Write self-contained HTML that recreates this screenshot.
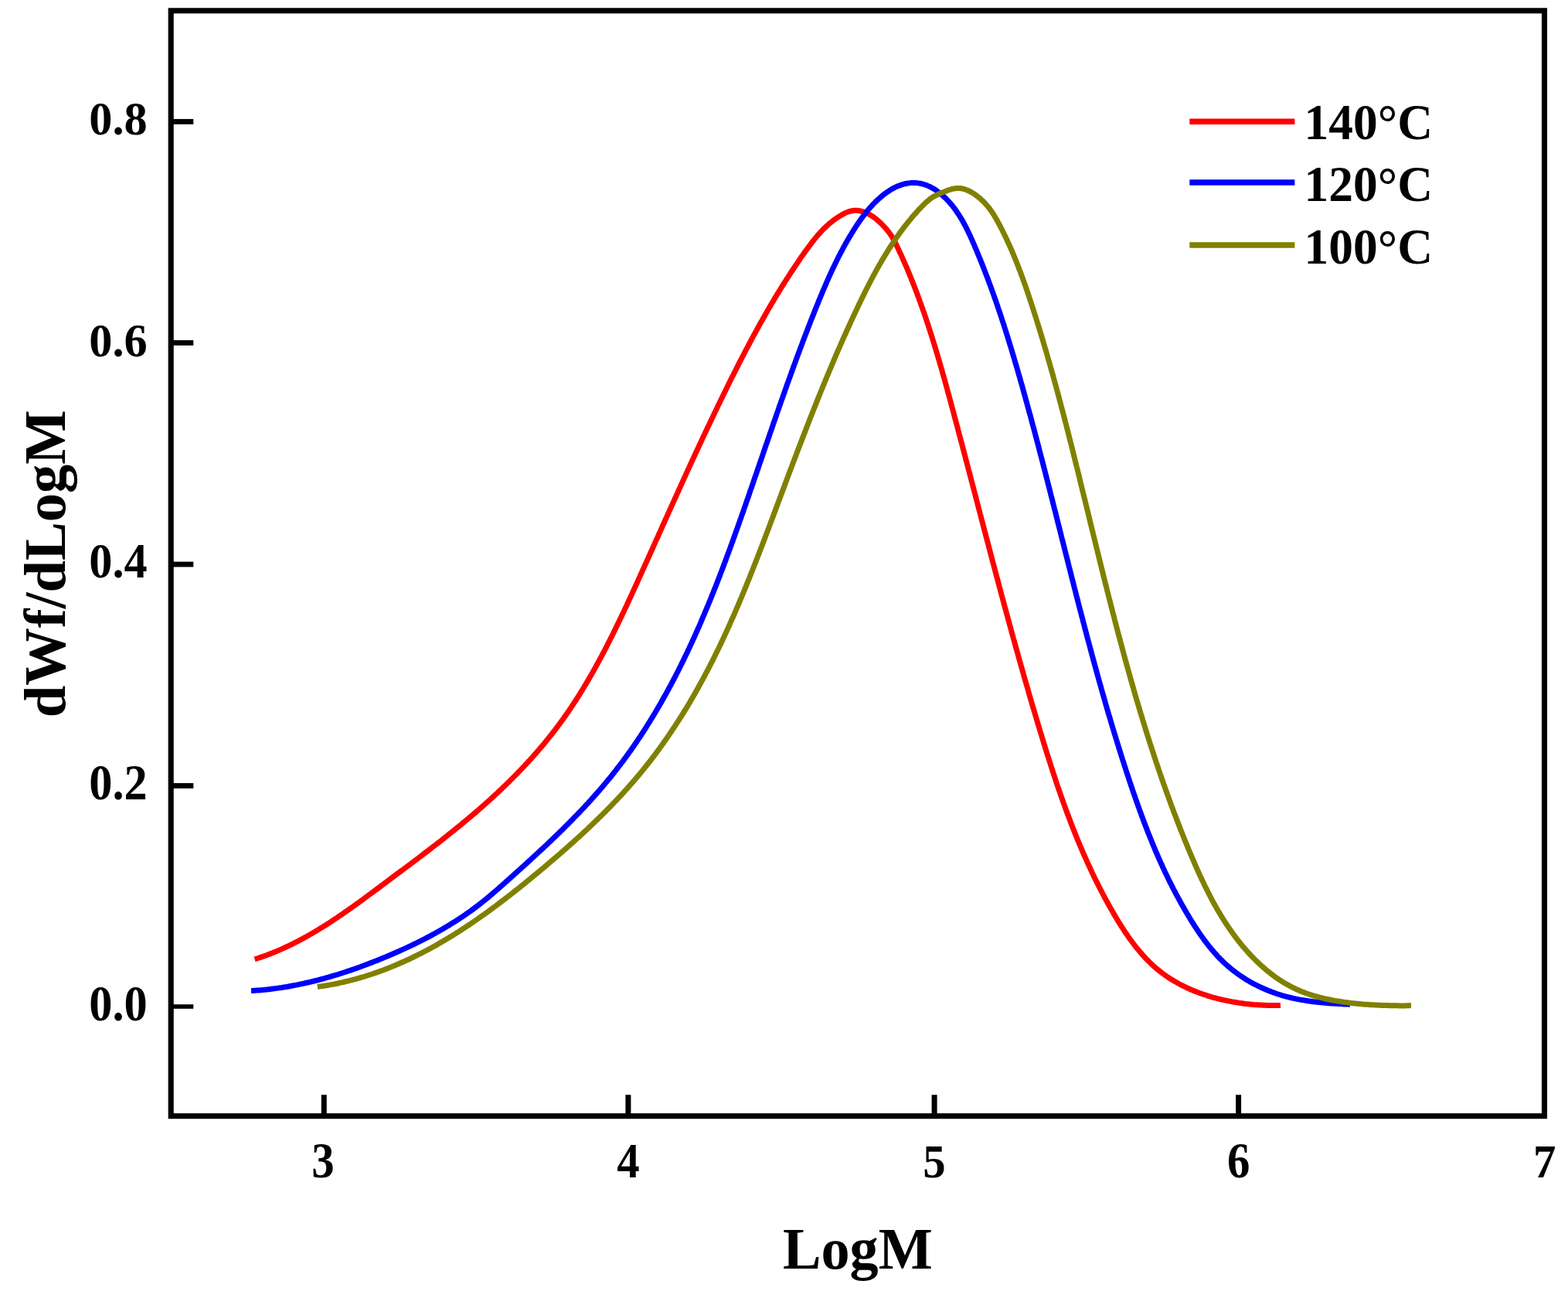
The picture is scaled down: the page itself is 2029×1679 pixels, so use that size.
<!DOCTYPE html>
<html lang="en"><head><meta charset="utf-8"><title>dWf/dLogM vs LogM</title>
<style>
html,body{margin:0;padding:0;background:#fff;}
body{width:2029px;height:1679px;overflow:hidden;}
svg{display:block;}
text{font-family:"Liberation Serif","DejaVu Serif",serif;font-weight:bold;fill:#000;}
.tick{font-size:60px;}
.lab{font-size:75px;}
.leg{font-size:63.5px;}
</style></head><body>
<svg width="2029" height="1679" viewBox="0 0 2029 1679">
<rect x="0" y="0" width="2029" height="1679" fill="#fff"/>
<path d="M329.6,1240.8 L332.1,1240.0 L334.5,1239.2 L336.9,1238.4 L339.3,1237.6 L341.7,1236.8 L344.0,1235.9 L346.4,1235.0 L348.8,1234.1 L351.1,1233.2 L353.5,1232.3 L355.8,1231.3 L358.1,1230.4 L360.4,1229.4 L362.7,1228.4 L365.0,1227.4 L367.3,1226.3 L369.6,1225.3 L371.8,1224.2 L374.1,1223.2 L376.3,1222.1 L378.6,1221.0 L380.8,1219.9 L383.0,1218.7 L385.2,1217.6 L387.4,1216.4 L389.6,1215.3 L391.8,1214.1 L394.0,1212.9 L396.2,1211.7 L398.4,1210.5 L400.5,1209.2 L402.7,1208.0 L404.9,1206.7 L407.0,1205.5 L409.1,1204.2 L411.3,1202.9 L413.4,1201.6 L415.5,1200.3 L417.7,1199.0 L419.8,1197.7 L421.9,1196.4 L424.0,1195.0 L426.1,1193.7 L428.2,1192.3 L430.2,1190.9 L432.3,1189.6 L434.4,1188.2 L436.5,1186.8 L438.5,1185.4 L440.6,1184.0 L442.7,1182.6 L444.7,1181.2 L446.8,1179.7 L448.8,1178.3 L450.9,1176.9 L452.9,1175.4 L455.0,1174.0 L457.0,1172.5 L459.0,1171.1 L461.1,1169.6 L463.1,1168.2 L465.1,1166.7 L467.1,1165.2 L469.2,1163.8 L471.2,1162.3 L473.2,1160.8 L475.2,1159.3 L477.2,1157.8 L479.2,1156.3 L481.2,1154.9 L483.2,1153.4 L485.3,1151.9 L487.3,1150.4 L489.3,1148.9 L491.3,1147.4 L493.3,1145.9 L495.3,1144.4 L497.3,1142.9 L499.3,1141.4 L501.3,1139.9 L503.3,1138.4 L505.3,1136.9 L507.3,1135.4 L509.3,1133.9 L511.3,1132.4 L513.3,1130.9 L515.3,1129.4 L517.3,1127.9 L519.3,1126.4 L521.3,1125.0 L523.3,1123.5 L525.3,1122.0 L527.3,1120.5 L529.3,1119.0 L531.3,1117.5 L533.3,1116.0 L535.3,1114.5 L537.3,1113.0 L539.3,1111.5 L541.3,1110.0 L543.3,1108.5 L545.3,1106.9 L547.2,1105.4 L549.2,1103.9 L551.2,1102.4 L553.2,1100.9 L555.2,1099.4 L557.2,1097.9 L559.1,1096.3 L561.1,1094.8 L563.1,1093.3 L565.1,1091.8 L567.0,1090.2 L569.0,1088.7 L571.0,1087.2 L572.9,1085.6 L574.9,1084.1 L576.8,1082.5 L578.8,1081.0 L580.7,1079.4 L582.7,1077.9 L584.6,1076.3 L586.6,1074.8 L588.5,1073.2 L590.5,1071.6 L592.4,1070.1 L594.3,1068.5 L596.3,1066.9 L598.2,1065.3 L600.1,1063.7 L602.0,1062.1 L604.0,1060.5 L605.9,1058.9 L607.8,1057.3 L609.7,1055.7 L611.6,1054.1 L613.5,1052.5 L615.4,1050.9 L617.3,1049.2 L619.2,1047.6 L621.1,1045.9 L622.9,1044.3 L624.8,1042.6 L626.7,1041.0 L628.6,1039.3 L630.4,1037.6 L632.3,1036.0 L634.2,1034.3 L636.0,1032.6 L637.9,1030.9 L639.7,1029.2 L641.5,1027.5 L643.4,1025.8 L645.2,1024.1 L647.0,1022.4 L648.8,1020.7 L650.6,1018.9 L652.5,1017.2 L654.3,1015.4 L656.1,1013.7 L657.8,1012.0 L659.6,1010.2 L661.4,1008.4 L663.2,1006.7 L664.9,1004.9 L666.7,1003.1 L668.5,1001.3 L670.2,999.5 L671.9,997.7 L673.7,995.9 L675.4,994.1 L677.1,992.3 L678.8,990.5 L680.5,988.6 L682.2,986.8 L683.9,985.0 L685.6,983.1 L687.3,981.3 L689.0,979.4 L690.6,977.5 L692.3,975.7 L693.9,973.8 L695.6,971.9 L697.2,970.0 L698.8,968.1 L700.5,966.2 L702.1,964.3 L703.7,962.4 L705.3,960.5 L706.8,958.5 L708.4,956.6 L710.0,954.7 L711.5,952.7 L713.1,950.8 L714.6,948.8 L716.2,946.8 L717.7,944.9 L719.2,942.9 L720.7,940.9 L722.2,938.9 L723.7,936.9 L725.1,934.9 L726.6,932.9 L728.1,930.9 L729.5,928.9 L730.9,926.8 L732.4,924.8 L733.8,922.8 L735.2,920.7 L736.6,918.7 L738.0,916.6 L739.4,914.5 L740.8,912.5 L742.1,910.4 L743.5,908.3 L744.9,906.2 L746.2,904.1 L747.5,902.0 L748.9,899.9 L750.2,897.8 L751.5,895.7 L752.8,893.6 L754.1,891.5 L755.4,889.3 L756.7,887.2 L758.0,885.1 L759.3,882.9 L760.5,880.8 L761.8,878.6 L763.0,876.5 L764.3,874.3 L765.5,872.1 L766.8,870.0 L768.0,867.8 L769.2,865.6 L770.4,863.4 L771.6,861.2 L772.8,859.1 L774.0,856.9 L775.2,854.7 L776.4,852.5 L777.6,850.3 L778.8,848.1 L779.9,845.8 L781.1,843.6 L782.3,841.4 L783.4,839.2 L784.6,837.0 L785.7,834.7 L786.8,832.5 L788.0,830.3 L789.1,828.1 L790.2,825.8 L791.4,823.6 L792.5,821.3 L793.6,819.1 L794.7,816.8 L795.8,814.6 L796.9,812.3 L798.0,810.1 L799.1,807.8 L800.2,805.6 L801.3,803.3 L802.4,801.0 L803.5,798.8 L804.5,796.5 L805.6,794.2 L806.7,792.0 L807.8,789.7 L808.8,787.4 L809.9,785.2 L811.0,782.9 L812.0,780.6 L813.1,778.3 L814.1,776.0 L815.2,773.8 L816.2,771.5 L817.3,769.2 L818.3,766.9 L819.4,764.6 L820.4,762.4 L821.5,760.1 L822.5,757.8 L823.6,755.5 L824.6,753.2 L825.6,750.9 L826.7,748.6 L827.7,746.4 L828.7,744.1 L829.8,741.8 L830.8,739.5 L831.8,737.2 L832.9,734.9 L833.9,732.6 L834.9,730.3 L836.0,728.1 L837.0,725.8 L838.0,723.5 L839.1,721.2 L840.1,718.9 L841.1,716.6 L842.1,714.3 L843.2,712.1 L844.2,709.8 L845.2,707.5 L846.2,705.2 L847.3,702.9 L848.3,700.6 L849.3,698.3 L850.4,696.1 L851.4,693.8 L852.4,691.5 L853.4,689.2 L854.5,686.9 L855.5,684.6 L856.5,682.4 L857.5,680.1 L858.6,677.8 L859.6,675.5 L860.6,673.2 L861.6,671.0 L862.7,668.7 L863.7,666.4 L864.7,664.1 L865.7,661.8 L866.8,659.6 L867.8,657.3 L868.8,655.0 L869.9,652.7 L870.9,650.4 L871.9,648.2 L872.9,645.9 L874.0,643.6 L875.0,641.3 L876.0,639.1 L877.1,636.8 L878.1,634.5 L879.1,632.2 L880.2,630.0 L881.2,627.7 L882.2,625.4 L883.3,623.1 L884.3,620.9 L885.3,618.6 L886.4,616.3 L887.4,614.1 L888.4,611.8 L889.5,609.5 L890.5,607.2 L891.6,605.0 L892.6,602.7 L893.6,600.4 L894.7,598.2 L895.7,595.9 L896.8,593.6 L897.8,591.4 L898.9,589.1 L899.9,586.8 L901.0,584.6 L902.0,582.3 L903.1,580.1 L904.1,577.8 L905.2,575.5 L906.2,573.3 L907.3,571.0 L908.3,568.7 L909.4,566.5 L910.4,564.2 L911.5,562.0 L912.6,559.7 L913.6,557.5 L914.7,555.2 L915.7,552.9 L916.8,550.7 L917.9,548.4 L919.0,546.2 L920.0,543.9 L921.1,541.7 L922.2,539.4 L923.2,537.2 L924.3,534.9 L925.4,532.7 L926.5,530.4 L927.6,528.2 L928.6,525.9 L929.7,523.7 L930.8,521.4 L931.9,519.2 L933.0,516.9 L934.1,514.7 L935.2,512.5 L936.3,510.2 L937.4,508.0 L938.5,505.7 L939.6,503.5 L940.7,501.3 L941.8,499.0 L942.9,496.8 L944.0,494.5 L945.1,492.3 L946.2,490.1 L947.3,487.8 L948.5,485.6 L949.6,483.4 L950.7,481.2 L951.8,478.9 L952.9,476.7 L954.1,474.5 L955.2,472.2 L956.3,470.0 L957.5,467.8 L958.6,465.6 L959.8,463.4 L960.9,461.1 L962.1,458.9 L963.2,456.7 L964.4,454.5 L965.5,452.3 L966.7,450.1 L967.9,447.9 L969.0,445.7 L970.2,443.5 L971.4,441.2 L972.6,439.0 L973.7,436.8 L974.9,434.6 L976.1,432.5 L977.3,430.3 L978.5,428.1 L979.7,425.9 L980.9,423.7 L982.1,421.5 L983.3,419.3 L984.5,417.1 L985.8,415.0 L987.0,412.8 L988.2,410.6 L989.5,408.4 L990.7,406.3 L991.9,404.1 L993.2,401.9 L994.4,399.8 L995.7,397.6 L997.0,395.4 L998.2,393.3 L999.5,391.1 L1000.8,389.0 L1002.0,386.8 L1003.3,384.7 L1004.6,382.6 L1005.9,380.4 L1007.2,378.3 L1008.5,376.1 L1009.8,374.0 L1011.1,371.9 L1012.5,369.8 L1013.8,367.6 L1015.1,365.5 L1016.5,363.4 L1017.8,361.3 L1019.2,359.2 L1020.5,357.1 L1021.9,355.0 L1023.2,352.9 L1024.6,350.8 L1026.0,348.7 L1027.4,346.6 L1028.8,344.5 L1030.2,342.4 L1031.6,340.4 L1033.0,338.3 L1034.4,336.2 L1035.8,334.1 L1037.2,332.1 L1038.7,330.0 L1040.1,328.0 L1041.6,325.9 L1043.0,323.9 L1044.5,321.8 L1046.0,319.8 L1047.5,317.8 L1049.0,315.8 L1050.5,313.8 L1052.0,311.8 L1053.6,309.9 L1055.2,307.9 L1056.8,306.0 L1058.4,304.1 L1060.0,302.3 L1061.7,300.4 L1063.4,298.6 L1065.1,296.8 L1066.9,295.1 L1068.7,293.4 L1070.5,291.7 L1072.3,290.0 L1074.2,288.4 L1076.1,286.9 L1078.1,285.3 L1080.1,283.8 L1082.2,282.4 L1084.2,281.0 L1086.4,279.7 L1088.5,278.3 L1090.8,277.1 L1093.0,275.9 L1095.3,274.9 L1097.7,273.9 L1100.0,273.2 L1102.4,272.7 L1104.9,272.3 L1107.3,272.2 L1109.8,272.3 L1112.2,272.7 L1114.7,273.2 L1117.1,273.9 L1119.5,274.7 L1121.8,275.8 L1124.1,276.9 L1126.4,278.2 L1128.5,279.5 L1130.7,281.0 L1132.7,282.5 L1134.7,284.1 L1136.6,285.8 L1138.5,287.5 L1140.3,289.3 L1142.1,291.1 L1143.8,292.9 L1145.5,294.7 L1147.2,296.6 L1148.7,298.5 L1150.3,300.4 L1151.7,302.4 L1153.1,304.5 L1154.5,306.5 L1155.7,308.7 L1156.9,310.8 L1158.1,313.0 L1159.2,315.3 L1160.2,317.5 L1161.3,319.8 L1162.4,322.0 L1163.5,324.3 L1164.5,326.6 L1165.6,328.8 L1166.6,331.1 L1167.6,333.4 L1168.6,335.7 L1169.7,338.0 L1170.7,340.3 L1171.7,342.6 L1172.7,344.9 L1173.7,347.2 L1174.6,349.5 L1175.6,351.8 L1176.6,354.2 L1177.5,356.5 L1178.5,358.8 L1179.4,361.1 L1180.3,363.4 L1181.3,365.8 L1182.2,368.1 L1183.1,370.4 L1184.0,372.8 L1184.9,375.1 L1185.8,377.4 L1186.7,379.8 L1187.5,382.1 L1188.4,384.5 L1189.3,386.8 L1190.1,389.2 L1191.0,391.5 L1191.8,393.9 L1192.7,396.2 L1193.5,398.6 L1194.3,400.9 L1195.2,403.3 L1196.0,405.6 L1196.8,408.0 L1197.6,410.4 L1198.4,412.7 L1199.2,415.1 L1200.0,417.5 L1200.8,419.8 L1201.5,422.2 L1202.3,424.6 L1203.1,427.0 L1203.8,429.3 L1204.6,431.7 L1205.4,434.1 L1206.1,436.5 L1206.9,438.9 L1207.6,441.2 L1208.3,443.6 L1209.1,446.0 L1209.8,448.4 L1210.5,450.8 L1211.2,453.2 L1212.0,455.6 L1212.7,458.0 L1213.4,460.3 L1214.1,462.7 L1214.8,465.1 L1215.5,467.5 L1216.2,469.9 L1216.9,472.3 L1217.6,474.7 L1218.3,477.1 L1219.0,479.5 L1219.6,481.9 L1220.3,484.3 L1221.0,486.7 L1221.7,489.1 L1222.4,491.5 L1223.0,493.9 L1223.7,496.3 L1224.4,498.8 L1225.0,501.2 L1225.7,503.6 L1226.3,506.0 L1227.0,508.4 L1227.7,510.8 L1228.3,513.2 L1229.0,515.6 L1229.6,518.0 L1230.3,520.4 L1230.9,522.9 L1231.6,525.3 L1232.2,527.7 L1232.9,530.1 L1233.5,532.5 L1234.2,534.9 L1234.8,537.3 L1235.4,539.7 L1236.1,542.2 L1236.7,544.6 L1237.4,547.0 L1238.0,549.4 L1238.7,551.8 L1239.3,554.2 L1239.9,556.6 L1240.6,559.1 L1241.2,561.5 L1241.9,563.9 L1242.5,566.3 L1243.1,568.7 L1243.8,571.1 L1244.4,573.6 L1245.1,576.0 L1245.7,578.4 L1246.3,580.8 L1247.0,583.2 L1247.6,585.6 L1248.2,588.1 L1248.9,590.5 L1249.5,592.9 L1250.1,595.3 L1250.8,597.7 L1251.4,600.1 L1252.1,602.6 L1252.7,605.0 L1253.3,607.4 L1254.0,609.8 L1254.6,612.2 L1255.2,614.7 L1255.9,617.1 L1256.5,619.5 L1257.1,621.9 L1257.8,624.3 L1258.4,626.7 L1259.0,629.2 L1259.7,631.6 L1260.3,634.0 L1260.9,636.4 L1261.6,638.8 L1262.2,641.3 L1262.8,643.7 L1263.5,646.1 L1264.1,648.5 L1264.7,650.9 L1265.4,653.4 L1266.0,655.8 L1266.6,658.2 L1267.3,660.6 L1267.9,663.0 L1268.5,665.4 L1269.2,667.9 L1269.8,670.3 L1270.4,672.7 L1271.1,675.1 L1271.7,677.5 L1272.3,680.0 L1273.0,682.4 L1273.6,684.8 L1274.2,687.2 L1274.9,689.6 L1275.5,692.1 L1276.1,694.5 L1276.8,696.9 L1277.4,699.3 L1278.1,701.7 L1278.7,704.1 L1279.3,706.6 L1280.0,709.0 L1280.6,711.4 L1281.2,713.8 L1281.9,716.2 L1282.5,718.7 L1283.2,721.1 L1283.8,723.5 L1284.4,725.9 L1285.1,728.3 L1285.7,730.7 L1286.4,733.2 L1287.0,735.6 L1287.6,738.0 L1288.3,740.4 L1288.9,742.8 L1289.6,745.2 L1290.2,747.7 L1290.9,750.1 L1291.5,752.5 L1292.2,754.9 L1292.8,757.3 L1293.4,759.7 L1294.1,762.1 L1294.7,764.6 L1295.4,767.0 L1296.0,769.4 L1296.7,771.8 L1297.3,774.2 L1298.0,776.6 L1298.6,779.1 L1299.3,781.5 L1299.9,783.9 L1300.6,786.3 L1301.2,788.7 L1301.9,791.1 L1302.6,793.5 L1303.2,795.9 L1303.9,798.4 L1304.5,800.8 L1305.2,803.2 L1305.8,805.6 L1306.5,808.0 L1307.2,810.4 L1307.8,812.8 L1308.5,815.2 L1309.1,817.7 L1309.8,820.1 L1310.5,822.5 L1311.1,824.9 L1311.8,827.3 L1312.5,829.7 L1313.1,832.1 L1313.8,834.5 L1314.5,836.9 L1315.1,839.3 L1315.8,841.7 L1316.5,844.2 L1317.2,846.6 L1317.8,849.0 L1318.5,851.4 L1319.2,853.8 L1319.9,856.2 L1320.5,858.6 L1321.2,861.0 L1321.9,863.4 L1322.6,865.8 L1323.3,868.2 L1324.0,870.6 L1324.6,873.0 L1325.3,875.4 L1326.0,877.8 L1326.7,880.2 L1327.4,882.6 L1328.1,885.0 L1328.8,887.4 L1329.5,889.8 L1330.2,892.2 L1330.8,894.6 L1331.5,897.0 L1332.2,899.4 L1332.9,901.8 L1333.6,904.2 L1334.3,906.6 L1335.0,909.0 L1335.7,911.4 L1336.4,913.8 L1337.1,916.2 L1337.9,918.6 L1338.6,921.0 L1339.3,923.4 L1340.0,925.8 L1340.7,928.2 L1341.4,930.6 L1342.1,933.0 L1342.8,935.4 L1343.6,937.8 L1344.3,940.2 L1345.0,942.6 L1345.7,945.0 L1346.4,947.3 L1347.2,949.7 L1347.9,952.1 L1348.6,954.5 L1349.4,956.9 L1350.1,959.3 L1350.8,961.7 L1351.6,964.1 L1352.3,966.5 L1353.0,968.8 L1353.8,971.2 L1354.5,973.6 L1355.3,976.0 L1356.0,978.4 L1356.8,980.8 L1357.5,983.1 L1358.3,985.5 L1359.1,987.9 L1359.8,990.3 L1360.6,992.6 L1361.4,995.0 L1362.1,997.4 L1362.9,999.8 L1363.7,1002.1 L1364.5,1004.5 L1365.3,1006.9 L1366.0,1009.2 L1366.8,1011.6 L1367.6,1014.0 L1368.4,1016.3 L1369.2,1018.7 L1370.0,1021.1 L1370.9,1023.4 L1371.7,1025.8 L1372.5,1028.1 L1373.3,1030.5 L1374.1,1032.8 L1375.0,1035.2 L1375.8,1037.5 L1376.7,1039.9 L1377.5,1042.2 L1378.4,1044.6 L1379.2,1046.9 L1380.1,1049.3 L1380.9,1051.6 L1381.8,1053.9 L1382.7,1056.3 L1383.6,1058.6 L1384.5,1060.9 L1385.3,1063.3 L1386.2,1065.6 L1387.1,1067.9 L1388.0,1070.3 L1389.0,1072.6 L1389.9,1074.9 L1390.8,1077.2 L1391.7,1079.5 L1392.7,1081.8 L1393.6,1084.2 L1394.5,1086.5 L1395.5,1088.8 L1396.5,1091.1 L1397.4,1093.4 L1398.4,1095.7 L1399.4,1098.0 L1400.4,1100.3 L1401.3,1102.6 L1402.3,1104.8 L1403.3,1107.1 L1404.4,1109.4 L1405.4,1111.7 L1406.4,1114.0 L1407.4,1116.3 L1408.5,1118.5 L1409.5,1120.8 L1410.6,1123.1 L1411.6,1125.3 L1412.7,1127.6 L1413.8,1129.9 L1414.8,1132.1 L1415.9,1134.4 L1417.0,1136.6 L1418.1,1138.9 L1419.2,1141.1 L1420.4,1143.4 L1421.5,1145.6 L1422.6,1147.8 L1423.8,1150.1 L1424.9,1152.3 L1426.1,1154.5 L1427.2,1156.7 L1428.4,1159.0 L1429.6,1161.2 L1430.8,1163.4 L1432.0,1165.6 L1433.2,1167.8 L1434.4,1170.0 L1435.7,1172.2 L1436.9,1174.4 L1438.1,1176.6 L1439.4,1178.8 L1440.7,1181.0 L1441.9,1183.2 L1443.2,1185.3 L1444.5,1187.5 L1445.8,1189.7 L1447.1,1191.8 L1448.4,1194.0 L1449.8,1196.1 L1451.1,1198.3 L1452.5,1200.4 L1453.9,1202.5 L1455.2,1204.6 L1456.6,1206.7 L1458.1,1208.8 L1459.5,1210.9 L1460.9,1212.9 L1462.4,1215.0 L1463.9,1217.0 L1465.4,1219.0 L1466.9,1221.0 L1468.4,1223.0 L1469.9,1225.0 L1471.5,1226.9 L1473.1,1228.8 L1474.7,1230.7 L1476.3,1232.6 L1477.9,1234.5 L1479.6,1236.3 L1481.2,1238.2 L1482.9,1240.0 L1484.7,1241.7 L1486.4,1243.5 L1488.2,1245.2 L1489.9,1246.9 L1491.7,1248.6 L1493.6,1250.3 L1495.4,1251.9 L1497.3,1253.5 L1499.2,1255.0 L1501.1,1256.6 L1503.0,1258.1 L1505.0,1259.5 L1507.0,1261.0 L1509.0,1262.4 L1511.1,1263.8 L1513.1,1265.2 L1515.2,1266.5 L1517.3,1267.8 L1519.4,1269.1 L1521.6,1270.3 L1523.7,1271.5 L1525.9,1272.7 L1528.1,1273.9 L1530.3,1275.0 L1532.6,1276.1 L1534.8,1277.2 L1537.1,1278.2 L1539.3,1279.3 L1541.6,1280.3 L1544.0,1281.2 L1546.3,1282.2 L1548.6,1283.1 L1551.0,1284.0 L1553.3,1284.9 L1555.7,1285.7 L1558.1,1286.5 L1560.5,1287.3 L1562.9,1288.1 L1565.3,1288.8 L1567.7,1289.6 L1570.2,1290.3 L1572.6,1290.9 L1575.1,1291.6 L1577.5,1292.2 L1580.0,1292.8 L1582.5,1293.4 L1584.9,1293.9 L1587.4,1294.4 L1589.9,1294.9 L1592.4,1295.4 L1594.9,1295.9 L1597.4,1296.3 L1599.9,1296.7 L1602.4,1297.1 L1604.9,1297.5 L1607.4,1297.8 L1609.9,1298.2 L1612.4,1298.5 L1614.9,1298.7 L1617.4,1299.0 L1619.9,1299.2 L1622.4,1299.5 L1624.9,1299.7 L1627.4,1299.8 L1629.9,1300.0 L1632.4,1300.1 L1634.9,1300.3 L1637.4,1300.3 L1639.8,1300.4 L1642.3,1300.5 L1644.8,1300.5 L1647.2,1300.5 L1649.7,1300.5 L1652.1,1300.5 L1654.5,1300.5 L1657.0,1300.4" fill="none" stroke="#ff0000" stroke-width="7.0" stroke-linejoin="round" stroke-linecap="butt"/>
<path d="M325.0,1281.6 L327.5,1281.5 L330.0,1281.3 L332.5,1281.1 L335.0,1280.9 L337.5,1280.7 L340.0,1280.5 L342.5,1280.2 L345.0,1280.0 L347.5,1279.7 L350.0,1279.4 L352.5,1279.1 L355.0,1278.8 L357.5,1278.4 L359.9,1278.1 L362.4,1277.7 L364.9,1277.4 L367.4,1277.0 L369.8,1276.6 L372.3,1276.2 L374.7,1275.7 L377.2,1275.3 L379.7,1274.8 L382.1,1274.4 L384.6,1273.9 L387.0,1273.4 L389.4,1272.9 L391.9,1272.4 L394.3,1271.8 L396.8,1271.3 L399.2,1270.7 L401.6,1270.2 L404.0,1269.6 L406.5,1269.0 L408.9,1268.4 L411.3,1267.8 L413.7,1267.1 L416.1,1266.5 L418.5,1265.9 L420.9,1265.2 L423.3,1264.5 L425.7,1263.8 L428.1,1263.1 L430.5,1262.4 L432.9,1261.7 L435.3,1261.0 L437.7,1260.3 L440.1,1259.5 L442.4,1258.8 L444.8,1258.0 L447.2,1257.2 L449.6,1256.4 L451.9,1255.7 L454.3,1254.9 L456.7,1254.0 L459.0,1253.2 L461.4,1252.4 L463.7,1251.5 L466.1,1250.7 L468.5,1249.8 L470.8,1249.0 L473.1,1248.1 L475.5,1247.2 L477.8,1246.3 L480.2,1245.4 L482.5,1244.5 L484.8,1243.6 L487.2,1242.7 L489.5,1241.7 L491.8,1240.8 L494.1,1239.8 L496.5,1238.9 L498.8,1237.9 L501.1,1237.0 L503.4,1236.0 L505.7,1235.0 L508.0,1234.0 L510.3,1233.0 L512.6,1232.0 L514.9,1231.0 L517.2,1230.0 L519.5,1228.9 L521.8,1227.9 L524.1,1226.9 L526.3,1225.8 L528.6,1224.7 L530.9,1223.7 L533.2,1222.6 L535.4,1221.5 L537.7,1220.4 L539.9,1219.3 L542.2,1218.2 L544.4,1217.1 L546.7,1215.9 L548.9,1214.8 L551.1,1213.6 L553.3,1212.5 L555.6,1211.3 L557.8,1210.1 L560.0,1208.9 L562.2,1207.7 L564.4,1206.5 L566.5,1205.3 L568.7,1204.1 L570.9,1202.8 L573.1,1201.6 L575.2,1200.3 L577.4,1199.0 L579.5,1197.7 L581.6,1196.4 L583.8,1195.1 L585.9,1193.8 L588.0,1192.5 L590.1,1191.2 L592.2,1189.8 L594.3,1188.4 L596.4,1187.1 L598.5,1185.7 L600.5,1184.3 L602.6,1182.9 L604.6,1181.4 L606.7,1180.0 L608.7,1178.6 L610.7,1177.1 L612.7,1175.6 L614.7,1174.1 L616.7,1172.6 L618.7,1171.1 L620.7,1169.6 L622.6,1168.1 L624.6,1166.5 L626.5,1164.9 L628.4,1163.4 L630.4,1161.8 L632.3,1160.2 L634.2,1158.6 L636.1,1157.0 L638.0,1155.4 L639.9,1153.7 L641.8,1152.1 L643.7,1150.5 L645.6,1148.8 L647.4,1147.2 L649.3,1145.5 L651.2,1143.9 L653.1,1142.2 L654.9,1140.5 L656.8,1138.9 L658.7,1137.2 L660.5,1135.5 L662.4,1133.9 L664.3,1132.2 L666.1,1130.5 L668.0,1128.9 L669.8,1127.2 L671.7,1125.5 L673.6,1123.8 L675.4,1122.1 L677.3,1120.5 L679.1,1118.8 L681.0,1117.1 L682.8,1115.4 L684.7,1113.7 L686.6,1112.0 L688.4,1110.3 L690.2,1108.6 L692.1,1106.9 L693.9,1105.2 L695.8,1103.5 L697.6,1101.8 L699.4,1100.1 L701.3,1098.4 L703.1,1096.7 L704.9,1095.0 L706.8,1093.3 L708.6,1091.6 L710.4,1089.8 L712.2,1088.1 L714.0,1086.4 L715.8,1084.6 L717.6,1082.9 L719.4,1081.2 L721.2,1079.4 L723.0,1077.7 L724.8,1075.9 L726.6,1074.2 L728.4,1072.4 L730.2,1070.7 L731.9,1068.9 L733.7,1067.1 L735.5,1065.4 L737.2,1063.6 L739.0,1061.8 L740.8,1060.0 L742.5,1058.2 L744.2,1056.4 L746.0,1054.6 L747.7,1052.8 L749.4,1051.0 L751.2,1049.2 L752.9,1047.4 L754.6,1045.6 L756.3,1043.8 L758.0,1041.9 L759.7,1040.1 L761.4,1038.3 L763.1,1036.4 L764.8,1034.6 L766.4,1032.7 L768.1,1030.8 L769.8,1029.0 L771.4,1027.1 L773.1,1025.2 L774.7,1023.4 L776.3,1021.5 L778.0,1019.6 L779.6,1017.7 L781.2,1015.8 L782.8,1013.9 L784.4,1011.9 L786.0,1010.0 L787.6,1008.1 L789.2,1006.2 L790.8,1004.2 L792.3,1002.3 L793.9,1000.3 L795.4,998.4 L797.0,996.4 L798.5,994.4 L800.0,992.4 L801.6,990.4 L803.1,988.5 L804.6,986.5 L806.1,984.5 L807.6,982.4 L809.1,980.4 L810.5,978.4 L812.0,976.4 L813.5,974.4 L814.9,972.3 L816.4,970.3 L817.8,968.2 L819.2,966.2 L820.7,964.1 L822.1,962.1 L823.5,960.0 L824.9,957.9 L826.3,955.8 L827.7,953.7 L829.1,951.7 L830.4,949.6 L831.8,947.5 L833.2,945.4 L834.5,943.3 L835.9,941.1 L837.2,939.0 L838.5,936.9 L839.9,934.8 L841.2,932.7 L842.5,930.5 L843.8,928.4 L845.1,926.2 L846.4,924.1 L847.7,922.0 L849.0,919.8 L850.2,917.6 L851.5,915.5 L852.8,913.3 L854.0,911.2 L855.3,909.0 L856.5,906.8 L857.7,904.6 L859.0,902.4 L860.2,900.3 L861.4,898.1 L862.6,895.9 L863.8,893.7 L865.0,891.5 L866.2,889.3 L867.4,887.1 L868.6,884.9 L869.7,882.7 L870.9,880.5 L872.1,878.3 L873.2,876.1 L874.4,873.8 L875.5,871.6 L876.7,869.4 L877.8,867.2 L878.9,864.9 L880.0,862.7 L881.1,860.5 L882.2,858.2 L883.4,856.0 L884.5,853.7 L885.5,851.5 L886.6,849.2 L887.7,847.0 L888.8,844.7 L889.9,842.5 L890.9,840.2 L892.0,838.0 L893.0,835.7 L894.1,833.4 L895.1,831.2 L896.2,828.9 L897.2,826.6 L898.3,824.4 L899.3,822.1 L900.3,819.8 L901.3,817.5 L902.3,815.3 L903.3,813.0 L904.4,810.7 L905.4,808.4 L906.4,806.1 L907.3,803.8 L908.3,801.5 L909.3,799.2 L910.3,796.9 L911.3,794.6 L912.2,792.3 L913.2,790.0 L914.2,787.7 L915.1,785.4 L916.1,783.1 L917.0,780.8 L918.0,778.5 L918.9,776.2 L919.9,773.8 L920.8,771.5 L921.7,769.2 L922.7,766.9 L923.6,764.6 L924.5,762.2 L925.5,759.9 L926.4,757.6 L927.3,755.3 L928.2,752.9 L929.1,750.6 L930.0,748.3 L930.9,745.9 L931.8,743.6 L932.7,741.3 L933.6,738.9 L934.5,736.6 L935.4,734.2 L936.3,731.9 L937.1,729.6 L938.0,727.2 L938.9,724.9 L939.8,722.5 L940.6,720.2 L941.5,717.8 L942.4,715.5 L943.2,713.1 L944.1,710.8 L945.0,708.4 L945.8,706.1 L946.7,703.7 L947.5,701.4 L948.4,699.0 L949.2,696.7 L950.1,694.3 L950.9,692.0 L951.8,689.6 L952.6,687.2 L953.5,684.9 L954.3,682.5 L955.1,680.2 L956.0,677.8 L956.8,675.4 L957.6,673.1 L958.5,670.7 L959.3,668.4 L960.1,666.0 L961.0,663.6 L961.8,661.3 L962.6,658.9 L963.4,656.5 L964.3,654.2 L965.1,651.8 L965.9,649.4 L966.7,647.1 L967.6,644.7 L968.4,642.3 L969.2,640.0 L970.0,637.6 L970.8,635.2 L971.6,632.9 L972.5,630.5 L973.3,628.1 L974.1,625.8 L974.9,623.4 L975.7,621.0 L976.5,618.7 L977.3,616.3 L978.2,613.9 L979.0,611.6 L979.8,609.2 L980.6,606.8 L981.4,604.5 L982.2,602.1 L983.0,599.7 L983.8,597.4 L984.7,595.0 L985.5,592.6 L986.3,590.3 L987.1,587.9 L987.9,585.5 L988.7,583.2 L989.5,580.8 L990.3,578.4 L991.1,576.1 L992.0,573.7 L992.8,571.3 L993.6,569.0 L994.4,566.6 L995.2,564.3 L996.0,561.9 L996.8,559.5 L997.7,557.2 L998.5,554.8 L999.3,552.4 L1000.1,550.1 L1000.9,547.7 L1001.7,545.3 L1002.6,543.0 L1003.4,540.6 L1004.2,538.3 L1005.0,535.9 L1005.8,533.5 L1006.7,531.2 L1007.5,528.8 L1008.3,526.4 L1009.1,524.1 L1010.0,521.7 L1010.8,519.4 L1011.6,517.0 L1012.5,514.7 L1013.3,512.3 L1014.1,509.9 L1015.0,507.6 L1015.8,505.2 L1016.6,502.9 L1017.5,500.5 L1018.3,498.2 L1019.1,495.8 L1020.0,493.4 L1020.8,491.1 L1021.7,488.7 L1022.5,486.4 L1023.4,484.0 L1024.2,481.7 L1025.1,479.3 L1025.9,477.0 L1026.8,474.6 L1027.6,472.3 L1028.5,469.9 L1029.4,467.6 L1030.2,465.2 L1031.1,462.9 L1031.9,460.6 L1032.8,458.2 L1033.7,455.9 L1034.6,453.5 L1035.4,451.2 L1036.3,448.8 L1037.2,446.5 L1038.1,444.2 L1038.9,441.8 L1039.8,439.5 L1040.7,437.1 L1041.6,434.8 L1042.5,432.5 L1043.4,430.1 L1044.3,427.8 L1045.2,425.5 L1046.1,423.1 L1047.0,420.8 L1047.9,418.5 L1048.8,416.1 L1049.7,413.8 L1050.6,411.5 L1051.6,409.2 L1052.5,406.8 L1053.4,404.5 L1054.3,402.2 L1055.2,399.9 L1056.2,397.5 L1057.1,395.2 L1058.1,392.9 L1059.0,390.6 L1059.9,388.2 L1060.9,385.9 L1061.8,383.6 L1062.8,381.3 L1063.8,379.0 L1064.7,376.7 L1065.7,374.4 L1066.7,372.1 L1067.7,369.8 L1068.7,367.5 L1069.7,365.2 L1070.7,362.9 L1071.7,360.6 L1072.7,358.3 L1073.7,356.1 L1074.8,353.8 L1075.8,351.5 L1076.9,349.3 L1077.9,347.0 L1079.0,344.7 L1080.1,342.5 L1081.2,340.2 L1082.3,338.0 L1083.4,335.8 L1084.5,333.5 L1085.6,331.3 L1086.8,329.1 L1087.9,326.9 L1089.1,324.7 L1090.3,322.5 L1091.4,320.3 L1092.6,318.1 L1093.8,315.9 L1095.1,313.7 L1096.3,311.6 L1097.6,309.4 L1098.8,307.3 L1100.1,305.1 L1101.4,303.0 L1102.7,300.9 L1104.0,298.7 L1105.3,296.6 L1106.7,294.5 L1108.0,292.4 L1109.4,290.3 L1110.8,288.3 L1112.2,286.2 L1113.7,284.2 L1115.1,282.1 L1116.6,280.1 L1118.1,278.1 L1119.6,276.1 L1121.2,274.2 L1122.8,272.2 L1124.4,270.3 L1126.0,268.4 L1127.7,266.6 L1129.4,264.7 L1131.1,262.9 L1132.9,261.1 L1134.7,259.4 L1136.6,257.7 L1138.4,256.0 L1140.4,254.3 L1142.3,252.7 L1144.3,251.1 L1146.4,249.6 L1148.4,248.2 L1150.6,246.8 L1152.7,245.4 L1154.9,244.1 L1157.1,242.9 L1159.4,241.8 L1161.7,240.8 L1164.0,239.9 L1166.4,239.1 L1168.7,238.3 L1171.1,237.7 L1173.6,237.2 L1176.0,236.9 L1178.4,236.6 L1180.9,236.5 L1183.4,236.5 L1185.8,236.6 L1188.2,236.9 L1190.7,237.3 L1193.1,237.8 L1195.4,238.4 L1197.8,239.2 L1200.1,240.1 L1202.4,241.1 L1204.6,242.2 L1206.8,243.4 L1209.0,244.6 L1211.1,246.0 L1213.1,247.5 L1215.2,249.0 L1217.1,250.6 L1219.0,252.2 L1220.9,253.9 L1222.7,255.6 L1224.5,257.3 L1226.2,259.1 L1227.9,260.9 L1229.6,262.8 L1231.2,264.7 L1232.8,266.6 L1234.3,268.6 L1235.8,270.6 L1237.2,272.6 L1238.6,274.7 L1240.0,276.7 L1241.4,278.9 L1242.7,281.0 L1244.0,283.1 L1245.3,285.3 L1246.5,287.5 L1247.7,289.7 L1248.9,291.9 L1250.1,294.2 L1251.2,296.4 L1252.3,298.7 L1253.4,301.0 L1254.5,303.3 L1255.6,305.6 L1256.6,307.9 L1257.7,310.2 L1258.7,312.6 L1259.7,314.9 L1260.7,317.2 L1261.7,319.6 L1262.7,321.9 L1263.7,324.2 L1264.7,326.6 L1265.6,328.9 L1266.6,331.3 L1267.6,333.6 L1268.5,336.0 L1269.5,338.3 L1270.4,340.6 L1271.3,343.0 L1272.3,345.3 L1273.2,347.7 L1274.1,350.0 L1275.0,352.4 L1275.9,354.7 L1276.8,357.1 L1277.7,359.4 L1278.6,361.8 L1279.4,364.1 L1280.3,366.5 L1281.2,368.8 L1282.1,371.2 L1282.9,373.5 L1283.8,375.9 L1284.6,378.2 L1285.5,380.6 L1286.3,382.9 L1287.1,385.3 L1288.0,387.7 L1288.8,390.0 L1289.6,392.4 L1290.4,394.7 L1291.2,397.1 L1292.0,399.5 L1292.8,401.8 L1293.6,404.2 L1294.4,406.5 L1295.2,408.9 L1296.0,411.3 L1296.7,413.6 L1297.5,416.0 L1298.3,418.4 L1299.1,420.7 L1299.8,423.1 L1300.6,425.5 L1301.3,427.8 L1302.1,430.2 L1302.8,432.6 L1303.6,434.9 L1304.3,437.3 L1305.0,439.7 L1305.8,442.1 L1306.5,444.4 L1307.2,446.8 L1308.0,449.2 L1308.7,451.5 L1309.4,453.9 L1310.1,456.3 L1310.8,458.7 L1311.5,461.1 L1312.2,463.4 L1312.9,465.8 L1313.6,468.2 L1314.3,470.6 L1315.0,473.0 L1315.7,475.3 L1316.4,477.7 L1317.1,480.1 L1317.8,482.5 L1318.5,484.9 L1319.2,487.3 L1319.9,489.7 L1320.5,492.0 L1321.2,494.4 L1321.9,496.8 L1322.6,499.2 L1323.2,501.6 L1323.9,504.0 L1324.6,506.4 L1325.2,508.8 L1325.9,511.2 L1326.6,513.6 L1327.2,516.0 L1327.9,518.4 L1328.6,520.8 L1329.2,523.2 L1329.9,525.6 L1330.5,528.0 L1331.2,530.4 L1331.8,532.8 L1332.5,535.2 L1333.2,537.6 L1333.8,540.0 L1334.5,542.4 L1335.1,544.8 L1335.7,547.2 L1336.4,549.6 L1337.0,552.0 L1337.7,554.4 L1338.3,556.8 L1339.0,559.2 L1339.6,561.6 L1340.2,564.0 L1340.9,566.4 L1341.5,568.9 L1342.2,571.3 L1342.8,573.7 L1343.4,576.1 L1344.1,578.5 L1344.7,580.9 L1345.3,583.3 L1345.9,585.7 L1346.6,588.2 L1347.2,590.6 L1347.8,593.0 L1348.5,595.4 L1349.1,597.8 L1349.7,600.2 L1350.3,602.7 L1351.0,605.1 L1351.6,607.5 L1352.2,609.9 L1352.8,612.3 L1353.4,614.8 L1354.1,617.2 L1354.7,619.6 L1355.3,622.0 L1355.9,624.4 L1356.5,626.9 L1357.2,629.3 L1357.8,631.7 L1358.4,634.1 L1359.0,636.5 L1359.6,639.0 L1360.2,641.4 L1360.9,643.8 L1361.5,646.2 L1362.1,648.7 L1362.7,651.1 L1363.3,653.5 L1363.9,655.9 L1364.5,658.4 L1365.2,660.8 L1365.8,663.2 L1366.4,665.6 L1367.0,668.1 L1367.6,670.5 L1368.2,672.9 L1368.8,675.4 L1369.4,677.8 L1370.1,680.2 L1370.7,682.6 L1371.3,685.1 L1371.9,687.5 L1372.5,689.9 L1373.1,692.3 L1373.7,694.8 L1374.3,697.2 L1375.0,699.6 L1375.6,702.1 L1376.2,704.5 L1376.8,706.9 L1377.4,709.4 L1378.0,711.8 L1378.6,714.2 L1379.2,716.6 L1379.9,719.1 L1380.5,721.5 L1381.1,723.9 L1381.7,726.4 L1382.3,728.8 L1382.9,731.2 L1383.5,733.6 L1384.2,736.1 L1384.8,738.5 L1385.4,740.9 L1386.0,743.4 L1386.6,745.8 L1387.2,748.2 L1387.9,750.6 L1388.5,753.1 L1389.1,755.5 L1389.7,757.9 L1390.3,760.4 L1391.0,762.8 L1391.6,765.2 L1392.2,767.7 L1392.8,770.1 L1393.4,772.5 L1394.1,774.9 L1394.7,777.4 L1395.3,779.8 L1395.9,782.2 L1396.6,784.6 L1397.2,787.1 L1397.8,789.5 L1398.5,791.9 L1399.1,794.4 L1399.7,796.8 L1400.4,799.2 L1401.0,801.6 L1401.6,804.1 L1402.3,806.5 L1402.9,808.9 L1403.5,811.3 L1404.2,813.8 L1404.8,816.2 L1405.4,818.6 L1406.1,821.0 L1406.7,823.5 L1407.4,825.9 L1408.0,828.3 L1408.7,830.7 L1409.3,833.1 L1410.0,835.6 L1410.6,838.0 L1411.3,840.4 L1411.9,842.8 L1412.6,845.2 L1413.2,847.7 L1413.9,850.1 L1414.5,852.5 L1415.2,854.9 L1415.8,857.3 L1416.5,859.8 L1417.2,862.2 L1417.8,864.6 L1418.5,867.0 L1419.2,869.4 L1419.8,871.8 L1420.5,874.3 L1421.2,876.7 L1421.8,879.1 L1422.5,881.5 L1423.2,883.9 L1423.9,886.3 L1424.6,888.7 L1425.2,891.1 L1425.9,893.6 L1426.6,896.0 L1427.3,898.4 L1428.0,900.8 L1428.7,903.2 L1429.4,905.6 L1430.0,908.0 L1430.7,910.4 L1431.4,912.8 L1432.1,915.2 L1432.8,917.6 L1433.5,920.0 L1434.2,922.4 L1434.9,924.8 L1435.7,927.2 L1436.4,929.6 L1437.1,932.0 L1437.8,934.4 L1438.5,936.8 L1439.2,939.2 L1439.9,941.6 L1440.7,944.0 L1441.4,946.4 L1442.1,948.8 L1442.9,951.2 L1443.6,953.6 L1444.3,956.0 L1445.1,958.4 L1445.8,960.8 L1446.5,963.2 L1447.3,965.6 L1448.0,967.9 L1448.8,970.3 L1449.5,972.7 L1450.3,975.1 L1451.0,977.5 L1451.8,979.9 L1452.5,982.3 L1453.3,984.6 L1454.1,987.0 L1454.8,989.4 L1455.6,991.8 L1456.4,994.2 L1457.1,996.5 L1457.9,998.9 L1458.7,1001.3 L1459.5,1003.7 L1460.3,1006.0 L1461.0,1008.4 L1461.8,1010.8 L1462.6,1013.2 L1463.4,1015.5 L1464.2,1017.9 L1465.0,1020.3 L1465.8,1022.6 L1466.6,1025.0 L1467.5,1027.4 L1468.3,1029.7 L1469.1,1032.1 L1469.9,1034.4 L1470.7,1036.8 L1471.6,1039.2 L1472.4,1041.5 L1473.3,1043.9 L1474.1,1046.2 L1474.9,1048.6 L1475.8,1050.9 L1476.7,1053.3 L1477.5,1055.6 L1478.4,1057.9 L1479.3,1060.3 L1480.1,1062.6 L1481.0,1064.9 L1481.9,1067.3 L1482.8,1069.6 L1483.7,1071.9 L1484.6,1074.3 L1485.5,1076.6 L1486.4,1078.9 L1487.4,1081.2 L1488.3,1083.5 L1489.2,1085.8 L1490.2,1088.2 L1491.1,1090.5 L1492.1,1092.8 L1493.0,1095.1 L1494.0,1097.4 L1494.9,1099.7 L1495.9,1102.0 L1496.9,1104.2 L1497.9,1106.5 L1498.9,1108.8 L1499.9,1111.1 L1500.9,1113.4 L1501.9,1115.7 L1503.0,1117.9 L1504.0,1120.2 L1505.0,1122.5 L1506.1,1124.7 L1507.1,1127.0 L1508.2,1129.2 L1509.3,1131.5 L1510.4,1133.7 L1511.4,1136.0 L1512.5,1138.2 L1513.6,1140.5 L1514.8,1142.7 L1515.9,1144.9 L1517.0,1147.1 L1518.1,1149.4 L1519.3,1151.6 L1520.4,1153.8 L1521.6,1156.0 L1522.8,1158.2 L1524.0,1160.4 L1525.2,1162.6 L1526.4,1164.8 L1527.6,1167.0 L1528.8,1169.2 L1530.0,1171.4 L1531.3,1173.5 L1532.5,1175.7 L1533.8,1177.9 L1535.0,1180.0 L1536.3,1182.2 L1537.6,1184.4 L1538.9,1186.5 L1540.2,1188.7 L1541.5,1190.8 L1542.8,1192.9 L1544.2,1195.1 L1545.5,1197.2 L1546.9,1199.3 L1548.3,1201.4 L1549.7,1203.5 L1551.1,1205.6 L1552.5,1207.7 L1553.9,1209.7 L1555.4,1211.8 L1556.8,1213.8 L1558.3,1215.9 L1559.8,1217.9 L1561.3,1219.9 L1562.9,1221.9 L1564.4,1223.8 L1566.0,1225.8 L1567.6,1227.7 L1569.2,1229.6 L1570.8,1231.5 L1572.5,1233.4 L1574.1,1235.2 L1575.8,1237.1 L1577.5,1238.9 L1579.3,1240.6 L1581.0,1242.4 L1582.8,1244.1 L1584.6,1245.8 L1586.5,1247.5 L1588.3,1249.2 L1590.2,1250.8 L1592.1,1252.4 L1594.0,1254.0 L1596.0,1255.5 L1598.0,1257.0 L1600.0,1258.5 L1602.0,1260.0 L1604.0,1261.4 L1606.1,1262.8 L1608.2,1264.2 L1610.3,1265.6 L1612.4,1266.9 L1614.5,1268.2 L1616.7,1269.4 L1618.8,1270.7 L1621.0,1271.9 L1623.2,1273.1 L1625.5,1274.2 L1627.7,1275.3 L1630.0,1276.4 L1632.2,1277.5 L1634.5,1278.5 L1636.8,1279.5 L1639.1,1280.5 L1641.4,1281.5 L1643.8,1282.4 L1646.1,1283.3 L1648.5,1284.1 L1650.8,1285.0 L1653.2,1285.8 L1655.6,1286.5 L1658.0,1287.3 L1660.4,1288.0 L1662.8,1288.7 L1665.2,1289.3 L1667.6,1289.9 L1670.1,1290.5 L1672.5,1291.1 L1674.9,1291.6 L1677.4,1292.1 L1679.8,1292.6 L1682.3,1293.1 L1684.8,1293.5 L1687.2,1293.9 L1689.7,1294.3 L1692.2,1294.7 L1694.7,1295.1 L1697.2,1295.4 L1699.6,1295.7 L1702.1,1296.0 L1704.6,1296.3 L1707.1,1296.6 L1709.6,1296.8 L1712.1,1297.1 L1714.6,1297.3 L1717.1,1297.5 L1719.6,1297.7 L1722.1,1297.9 L1724.6,1298.0 L1727.1,1298.2 L1729.6,1298.3 L1732.1,1298.5 L1734.6,1298.6 L1737.1,1298.7 L1739.6,1298.9 L1742.0,1299.0 L1744.5,1299.1 L1747.0,1299.2" fill="none" stroke="#0000ff" stroke-width="7.0" stroke-linejoin="round" stroke-linecap="butt"/>
<path d="M410.8,1276.5 L413.3,1276.1 L415.9,1275.8 L418.4,1275.4 L421.0,1275.0 L423.5,1274.5 L426.0,1274.1 L428.6,1273.6 L431.1,1273.2 L433.6,1272.7 L436.1,1272.2 L438.5,1271.7 L441.0,1271.1 L443.5,1270.6 L446.0,1270.0 L448.4,1269.4 L450.9,1268.8 L453.3,1268.2 L455.8,1267.6 L458.2,1266.9 L460.6,1266.3 L463.1,1265.6 L465.5,1264.9 L467.9,1264.2 L470.3,1263.5 L472.7,1262.8 L475.1,1262.0 L477.4,1261.2 L479.8,1260.5 L482.2,1259.7 L484.5,1258.9 L486.9,1258.1 L489.2,1257.2 L491.6,1256.4 L493.9,1255.5 L496.3,1254.7 L498.6,1253.8 L500.9,1252.9 L503.2,1252.0 L505.5,1251.1 L507.8,1250.1 L510.1,1249.2 L512.4,1248.2 L514.7,1247.3 L517.0,1246.3 L519.2,1245.3 L521.5,1244.3 L523.8,1243.3 L526.0,1242.2 L528.3,1241.2 L530.5,1240.2 L532.8,1239.1 L535.0,1238.0 L537.2,1236.9 L539.4,1235.8 L541.7,1234.7 L543.9,1233.6 L546.1,1232.5 L548.3,1231.3 L550.5,1230.2 L552.7,1229.0 L554.9,1227.9 L557.0,1226.7 L559.2,1225.5 L561.4,1224.3 L563.6,1223.1 L565.7,1221.9 L567.9,1220.6 L570.0,1219.4 L572.2,1218.1 L574.3,1216.9 L576.4,1215.6 L578.6,1214.3 L580.7,1213.1 L582.8,1211.8 L585.0,1210.5 L587.1,1209.2 L589.2,1207.8 L591.3,1206.5 L593.4,1205.2 L595.5,1203.8 L597.6,1202.5 L599.7,1201.1 L601.8,1199.7 L603.8,1198.4 L605.9,1197.0 L608.0,1195.6 L610.1,1194.2 L612.1,1192.8 L614.2,1191.4 L616.2,1190.0 L618.3,1188.5 L620.3,1187.1 L622.4,1185.7 L624.4,1184.2 L626.5,1182.8 L628.5,1181.3 L630.5,1179.9 L632.6,1178.4 L634.6,1176.9 L636.6,1175.4 L638.6,1173.9 L640.6,1172.5 L642.6,1171.0 L644.6,1169.4 L646.6,1167.9 L648.6,1166.4 L650.6,1164.9 L652.6,1163.4 L654.6,1161.9 L656.6,1160.3 L658.6,1158.8 L660.6,1157.2 L662.6,1155.7 L664.5,1154.1 L666.5,1152.6 L668.5,1151.0 L670.4,1149.5 L672.4,1147.9 L674.4,1146.3 L676.3,1144.7 L678.3,1143.2 L680.2,1141.6 L682.2,1140.0 L684.1,1138.4 L686.1,1136.8 L688.0,1135.2 L689.9,1133.6 L691.9,1132.0 L693.8,1130.4 L695.8,1128.8 L697.7,1127.2 L699.6,1125.6 L701.5,1124.0 L703.5,1122.4 L705.4,1120.8 L707.3,1119.1 L709.2,1117.5 L711.1,1115.9 L713.0,1114.3 L714.9,1112.6 L716.9,1111.0 L718.8,1109.4 L720.7,1107.7 L722.6,1106.1 L724.4,1104.5 L726.3,1102.8 L728.2,1101.2 L730.1,1099.5 L732.0,1097.9 L733.9,1096.2 L735.7,1094.6 L737.6,1092.9 L739.5,1091.2 L741.4,1089.6 L743.2,1087.9 L745.1,1086.2 L746.9,1084.5 L748.8,1082.8 L750.6,1081.2 L752.5,1079.5 L754.3,1077.8 L756.1,1076.1 L758.0,1074.4 L759.8,1072.7 L761.6,1070.9 L763.4,1069.2 L765.2,1067.5 L767.0,1065.8 L768.8,1064.1 L770.6,1062.3 L772.4,1060.6 L774.2,1058.9 L776.0,1057.1 L777.8,1055.4 L779.5,1053.6 L781.3,1051.8 L783.1,1050.1 L784.8,1048.3 L786.6,1046.5 L788.3,1044.8 L790.1,1043.0 L791.8,1041.2 L793.5,1039.4 L795.2,1037.6 L797.0,1035.8 L798.7,1034.0 L800.4,1032.1 L802.1,1030.3 L803.8,1028.5 L805.5,1026.7 L807.1,1024.8 L808.8,1023.0 L810.5,1021.1 L812.1,1019.3 L813.8,1017.4 L815.4,1015.5 L817.1,1013.7 L818.7,1011.8 L820.4,1009.9 L822.0,1008.0 L823.6,1006.1 L825.2,1004.2 L826.8,1002.3 L828.4,1000.4 L830.0,998.4 L831.6,996.5 L833.1,994.6 L834.7,992.6 L836.3,990.7 L837.8,988.7 L839.4,986.7 L840.9,984.8 L842.4,982.8 L843.9,980.8 L845.5,978.8 L847.0,976.8 L848.5,974.8 L850.0,972.8 L851.4,970.8 L852.9,968.8 L854.4,966.7 L855.9,964.7 L857.3,962.7 L858.8,960.6 L860.2,958.6 L861.7,956.5 L863.1,954.5 L864.5,952.4 L865.9,950.4 L867.3,948.3 L868.7,946.2 L870.1,944.1 L871.5,942.0 L872.9,939.9 L874.3,937.8 L875.6,935.7 L877.0,933.6 L878.4,931.5 L879.7,929.4 L881.1,927.3 L882.4,925.2 L883.7,923.1 L885.0,920.9 L886.3,918.8 L887.7,916.7 L889.0,914.5 L890.2,912.4 L891.5,910.2 L892.8,908.1 L894.1,905.9 L895.3,903.7 L896.6,901.6 L897.9,899.4 L899.1,897.2 L900.3,895.1 L901.6,892.9 L902.8,890.7 L904.0,888.5 L905.2,886.3 L906.4,884.1 L907.6,881.9 L908.8,879.8 L910.0,877.6 L911.2,875.3 L912.4,873.1 L913.5,870.9 L914.7,868.7 L915.9,866.5 L917.0,864.3 L918.2,862.1 L919.3,859.8 L920.4,857.6 L921.6,855.4 L922.7,853.2 L923.8,850.9 L924.9,848.7 L926.0,846.4 L927.1,844.2 L928.2,842.0 L929.3,839.7 L930.4,837.5 L931.5,835.2 L932.6,832.9 L933.6,830.7 L934.7,828.4 L935.8,826.2 L936.8,823.9 L937.9,821.6 L938.9,819.4 L940.0,817.1 L941.0,814.8 L942.0,812.5 L943.1,810.3 L944.1,808.0 L945.1,805.7 L946.1,803.4 L947.1,801.1 L948.2,798.9 L949.2,796.6 L950.2,794.3 L951.2,792.0 L952.2,789.7 L953.1,787.4 L954.1,785.1 L955.1,782.8 L956.1,780.5 L957.1,778.2 L958.0,775.9 L959.0,773.6 L960.0,771.3 L960.9,768.9 L961.9,766.6 L962.8,764.3 L963.8,762.0 L964.8,759.7 L965.7,757.4 L966.6,755.1 L967.6,752.7 L968.5,750.4 L969.5,748.1 L970.4,745.8 L971.3,743.4 L972.2,741.1 L973.2,738.8 L974.1,736.5 L975.0,734.1 L975.9,731.8 L976.8,729.5 L977.8,727.1 L978.7,724.8 L979.6,722.5 L980.5,720.1 L981.4,717.8 L982.3,715.5 L983.2,713.1 L984.1,710.8 L985.0,708.4 L985.9,706.1 L986.8,703.8 L987.7,701.4 L988.6,699.1 L989.5,696.7 L990.4,694.4 L991.2,692.0 L992.1,689.7 L993.0,687.4 L993.9,685.0 L994.8,682.7 L995.7,680.3 L996.6,678.0 L997.4,675.6 L998.3,673.3 L999.2,670.9 L1000.1,668.6 L1001.0,666.3 L1001.8,663.9 L1002.7,661.6 L1003.6,659.2 L1004.5,656.9 L1005.3,654.5 L1006.2,652.2 L1007.1,649.8 L1008.0,647.5 L1008.8,645.1 L1009.7,642.8 L1010.6,640.4 L1011.5,638.1 L1012.3,635.8 L1013.2,633.4 L1014.1,631.1 L1015.0,628.7 L1015.9,626.4 L1016.7,624.0 L1017.6,621.7 L1018.5,619.3 L1019.4,617.0 L1020.2,614.7 L1021.1,612.3 L1022.0,610.0 L1022.9,607.6 L1023.8,605.3 L1024.7,603.0 L1025.5,600.6 L1026.4,598.3 L1027.3,595.9 L1028.2,593.6 L1029.1,591.3 L1030.0,588.9 L1030.8,586.6 L1031.7,584.3 L1032.6,581.9 L1033.5,579.6 L1034.4,577.2 L1035.3,574.9 L1036.2,572.6 L1037.1,570.2 L1038.0,567.9 L1038.9,565.6 L1039.8,563.2 L1040.7,560.9 L1041.6,558.6 L1042.5,556.3 L1043.4,553.9 L1044.3,551.6 L1045.2,549.3 L1046.1,546.9 L1047.0,544.6 L1047.9,542.3 L1048.8,540.0 L1049.8,537.6 L1050.7,535.3 L1051.6,533.0 L1052.5,530.7 L1053.4,528.3 L1054.4,526.0 L1055.3,523.7 L1056.2,521.4 L1057.1,519.1 L1058.1,516.7 L1059.0,514.4 L1059.9,512.1 L1060.9,509.8 L1061.8,507.5 L1062.7,505.2 L1063.7,502.8 L1064.6,500.5 L1065.6,498.2 L1066.5,495.9 L1067.5,493.6 L1068.4,491.3 L1069.4,489.0 L1070.3,486.7 L1071.3,484.4 L1072.3,482.1 L1073.2,479.7 L1074.2,477.4 L1075.2,475.1 L1076.1,472.8 L1077.1,470.5 L1078.1,468.2 L1079.1,465.9 L1080.0,463.6 L1081.0,461.3 L1082.0,459.0 L1083.0,456.7 L1084.0,454.4 L1085.0,452.1 L1086.0,449.9 L1087.0,447.6 L1088.0,445.3 L1089.0,443.0 L1090.0,440.7 L1091.0,438.4 L1092.0,436.1 L1093.1,433.8 L1094.1,431.5 L1095.1,429.3 L1096.1,427.0 L1097.2,424.7 L1098.2,422.4 L1099.3,420.1 L1100.3,417.8 L1101.3,415.6 L1102.4,413.3 L1103.4,411.0 L1104.5,408.7 L1105.6,406.5 L1106.6,404.2 L1107.7,401.9 L1108.8,399.7 L1109.8,397.4 L1110.9,395.1 L1112.0,392.9 L1113.1,390.6 L1114.2,388.3 L1115.3,386.1 L1116.4,383.8 L1117.5,381.6 L1118.6,379.3 L1119.7,377.1 L1120.8,374.8 L1121.9,372.6 L1123.1,370.3 L1124.2,368.1 L1125.4,365.9 L1126.5,363.6 L1127.7,361.4 L1128.9,359.2 L1130.0,357.0 L1131.2,354.8 L1132.4,352.6 L1133.6,350.4 L1134.8,348.2 L1136.1,346.0 L1137.3,343.8 L1138.5,341.6 L1139.8,339.5 L1141.0,337.3 L1142.3,335.1 L1143.6,333.0 L1144.9,330.9 L1146.2,328.7 L1147.5,326.6 L1148.8,324.5 L1150.1,322.4 L1151.5,320.3 L1152.8,318.2 L1154.2,316.1 L1155.6,314.0 L1157.0,311.9 L1158.4,309.9 L1159.8,307.8 L1161.2,305.8 L1162.7,303.7 L1164.1,301.7 L1165.6,299.7 L1167.1,297.7 L1168.6,295.7 L1170.1,293.7 L1171.6,291.7 L1173.1,289.8 L1174.7,287.8 L1176.3,285.9 L1177.9,283.9 L1179.5,282.0 L1181.1,280.1 L1182.7,278.2 L1184.4,276.3 L1186.1,274.5 L1187.7,272.6 L1189.4,270.7 L1191.2,268.9 L1192.9,267.1 L1194.7,265.3 L1196.5,263.5 L1198.3,261.8 L1200.2,260.2 L1202.1,258.6 L1204.0,257.1 L1206.1,255.6 L1208.2,254.3 L1210.4,253.1 L1212.6,252.0 L1214.9,250.9 L1217.2,249.9 L1219.6,248.9 L1222.0,248.0 L1224.4,247.0 L1226.8,246.1 L1229.2,245.3 L1231.6,244.6 L1234.1,244.0 L1236.5,243.7 L1238.9,243.5 L1241.4,243.5 L1243.8,243.8 L1246.2,244.2 L1248.5,244.9 L1250.9,245.7 L1253.2,246.7 L1255.5,247.9 L1257.7,249.1 L1259.9,250.4 L1262.0,251.9 L1264.1,253.4 L1266.0,254.9 L1268.0,256.5 L1269.8,258.2 L1271.6,259.9 L1273.4,261.6 L1275.1,263.4 L1276.7,265.3 L1278.3,267.2 L1279.9,269.1 L1281.3,271.1 L1282.8,273.1 L1284.2,275.2 L1285.5,277.2 L1286.9,279.4 L1288.1,281.5 L1289.4,283.7 L1290.6,285.9 L1291.8,288.1 L1293.0,290.3 L1294.2,292.5 L1295.3,294.7 L1296.5,297.0 L1297.6,299.2 L1298.7,301.5 L1299.8,303.7 L1300.9,306.0 L1302.0,308.2 L1303.1,310.5 L1304.1,312.8 L1305.1,315.0 L1306.2,317.3 L1307.2,319.6 L1308.2,321.9 L1309.2,324.2 L1310.2,326.5 L1311.2,328.8 L1312.1,331.1 L1313.1,333.4 L1314.0,335.7 L1315.0,338.1 L1315.9,340.4 L1316.8,342.7 L1317.7,345.0 L1318.6,347.4 L1319.5,349.7 L1320.4,352.0 L1321.3,354.4 L1322.1,356.7 L1323.0,359.1 L1323.8,361.4 L1324.7,363.8 L1325.5,366.1 L1326.4,368.5 L1327.2,370.8 L1328.0,373.2 L1328.8,375.6 L1329.6,377.9 L1330.4,380.3 L1331.2,382.7 L1332.0,385.1 L1332.8,387.4 L1333.6,389.8 L1334.4,392.2 L1335.2,394.6 L1335.9,396.9 L1336.7,399.3 L1337.5,401.7 L1338.2,404.1 L1339.0,406.5 L1339.7,408.8 L1340.5,411.2 L1341.2,413.6 L1342.0,416.0 L1342.7,418.4 L1343.5,420.8 L1344.2,423.2 L1345.0,425.6 L1345.7,427.9 L1346.4,430.3 L1347.1,432.7 L1347.9,435.1 L1348.6,437.5 L1349.3,439.9 L1350.0,442.3 L1350.7,444.7 L1351.4,447.1 L1352.1,449.5 L1352.9,451.9 L1353.6,454.3 L1354.3,456.7 L1355.0,459.1 L1355.6,461.5 L1356.3,463.9 L1357.0,466.3 L1357.7,468.7 L1358.4,471.1 L1359.1,473.5 L1359.8,475.9 L1360.4,478.3 L1361.1,480.7 L1361.8,483.1 L1362.5,485.5 L1363.1,487.9 L1363.8,490.4 L1364.5,492.8 L1365.1,495.2 L1365.8,497.6 L1366.5,500.0 L1367.1,502.4 L1367.8,504.8 L1368.4,507.2 L1369.1,509.6 L1369.7,512.1 L1370.4,514.5 L1371.0,516.9 L1371.7,519.3 L1372.3,521.7 L1372.9,524.1 L1373.6,526.6 L1374.2,529.0 L1374.9,531.4 L1375.5,533.8 L1376.1,536.2 L1376.8,538.6 L1377.4,541.1 L1378.0,543.5 L1378.6,545.9 L1379.3,548.3 L1379.9,550.8 L1380.5,553.2 L1381.1,555.6 L1381.8,558.0 L1382.4,560.4 L1383.0,562.9 L1383.6,565.3 L1384.2,567.7 L1384.8,570.1 L1385.5,572.6 L1386.1,575.0 L1386.7,577.4 L1387.3,579.8 L1387.9,582.3 L1388.5,584.7 L1389.1,587.1 L1389.7,589.6 L1390.3,592.0 L1390.9,594.4 L1391.5,596.8 L1392.1,599.3 L1392.7,601.7 L1393.3,604.1 L1394.0,606.6 L1394.6,609.0 L1395.2,611.4 L1395.8,613.8 L1396.4,616.3 L1396.9,618.7 L1397.5,621.1 L1398.1,623.6 L1398.7,626.0 L1399.3,628.4 L1399.9,630.9 L1400.5,633.3 L1401.1,635.7 L1401.7,638.2 L1402.3,640.6 L1402.9,643.0 L1403.5,645.4 L1404.1,647.9 L1404.7,650.3 L1405.3,652.7 L1405.9,655.2 L1406.5,657.6 L1407.1,660.0 L1407.7,662.5 L1408.3,664.9 L1408.9,667.3 L1409.5,669.8 L1410.0,672.2 L1410.6,674.6 L1411.2,677.1 L1411.8,679.5 L1412.4,681.9 L1413.0,684.4 L1413.6,686.8 L1414.2,689.2 L1414.8,691.7 L1415.4,694.1 L1416.0,696.5 L1416.6,699.0 L1417.2,701.4 L1417.8,703.8 L1418.4,706.3 L1419.0,708.7 L1419.6,711.1 L1420.2,713.6 L1420.8,716.0 L1421.4,718.4 L1422.0,720.8 L1422.6,723.3 L1423.2,725.7 L1423.8,728.1 L1424.4,730.6 L1425.0,733.0 L1425.6,735.4 L1426.2,737.9 L1426.8,740.3 L1427.4,742.7 L1428.0,745.2 L1428.6,747.6 L1429.2,750.0 L1429.8,752.4 L1430.4,754.9 L1431.1,757.3 L1431.7,759.7 L1432.3,762.2 L1432.9,764.6 L1433.5,767.0 L1434.1,769.4 L1434.7,771.9 L1435.4,774.3 L1436.0,776.7 L1436.6,779.1 L1437.2,781.6 L1437.8,784.0 L1438.5,786.4 L1439.1,788.8 L1439.7,791.3 L1440.3,793.7 L1441.0,796.1 L1441.6,798.5 L1442.2,801.0 L1442.8,803.4 L1443.5,805.8 L1444.1,808.2 L1444.7,810.6 L1445.4,813.1 L1446.0,815.5 L1446.6,817.9 L1447.3,820.3 L1447.9,822.7 L1448.6,825.2 L1449.2,827.6 L1449.9,830.0 L1450.5,832.4 L1451.2,834.8 L1451.8,837.3 L1452.5,839.7 L1453.1,842.1 L1453.8,844.5 L1454.4,846.9 L1455.1,849.3 L1455.7,851.7 L1456.4,854.2 L1457.1,856.6 L1457.7,859.0 L1458.4,861.4 L1459.1,863.8 L1459.7,866.2 L1460.4,868.6 L1461.1,871.0 L1461.8,873.4 L1462.4,875.8 L1463.1,878.2 L1463.8,880.7 L1464.5,883.1 L1465.2,885.5 L1465.9,887.9 L1466.6,890.3 L1467.2,892.7 L1467.9,895.1 L1468.6,897.5 L1469.3,899.9 L1470.0,902.3 L1470.7,904.7 L1471.4,907.1 L1472.2,909.5 L1472.9,911.9 L1473.6,914.3 L1474.3,916.7 L1475.0,919.1 L1475.7,921.5 L1476.4,923.8 L1477.2,926.2 L1477.9,928.6 L1478.6,931.0 L1479.4,933.4 L1480.1,935.8 L1480.8,938.2 L1481.6,940.6 L1482.3,943.0 L1483.0,945.4 L1483.8,947.7 L1484.5,950.1 L1485.3,952.5 L1486.0,954.9 L1486.8,957.3 L1487.6,959.7 L1488.3,962.0 L1489.1,964.4 L1489.9,966.8 L1490.6,969.2 L1491.4,971.5 L1492.2,973.9 L1493.0,976.3 L1493.7,978.7 L1494.5,981.0 L1495.3,983.4 L1496.1,985.8 L1496.9,988.2 L1497.7,990.5 L1498.5,992.9 L1499.3,995.3 L1500.1,997.6 L1500.9,1000.0 L1501.7,1002.3 L1502.5,1004.7 L1503.3,1007.1 L1504.2,1009.4 L1505.0,1011.8 L1505.8,1014.2 L1506.7,1016.5 L1507.5,1018.9 L1508.3,1021.2 L1509.2,1023.6 L1510.0,1025.9 L1510.9,1028.3 L1511.7,1030.6 L1512.6,1033.0 L1513.4,1035.3 L1514.3,1037.7 L1515.1,1040.0 L1516.0,1042.4 L1516.9,1044.7 L1517.8,1047.1 L1518.6,1049.4 L1519.5,1051.7 L1520.4,1054.1 L1521.3,1056.4 L1522.2,1058.8 L1523.1,1061.1 L1524.0,1063.4 L1524.9,1065.8 L1525.8,1068.1 L1526.7,1070.4 L1527.6,1072.8 L1528.5,1075.1 L1529.5,1077.4 L1530.4,1079.7 L1531.3,1082.1 L1532.3,1084.4 L1533.2,1086.7 L1534.1,1089.0 L1535.1,1091.3 L1536.0,1093.7 L1537.0,1096.0 L1537.9,1098.3 L1538.9,1100.6 L1539.9,1102.9 L1540.8,1105.2 L1541.8,1107.5 L1542.8,1109.9 L1543.8,1112.2 L1544.8,1114.5 L1545.8,1116.8 L1546.8,1119.1 L1547.8,1121.4 L1548.8,1123.6 L1549.8,1125.9 L1550.8,1128.2 L1551.9,1130.5 L1552.9,1132.8 L1554.0,1135.1 L1555.0,1137.3 L1556.1,1139.6 L1557.2,1141.8 L1558.3,1144.1 L1559.3,1146.4 L1560.5,1148.6 L1561.6,1150.8 L1562.7,1153.1 L1563.8,1155.3 L1565.0,1157.5 L1566.1,1159.7 L1567.3,1162.0 L1568.5,1164.2 L1569.6,1166.4 L1570.8,1168.5 L1572.0,1170.7 L1573.3,1172.9 L1574.5,1175.1 L1575.7,1177.2 L1577.0,1179.4 L1578.3,1181.5 L1579.6,1183.7 L1580.9,1185.8 L1582.2,1187.9 L1583.5,1190.0 L1584.8,1192.1 L1586.2,1194.2 L1587.6,1196.3 L1589.0,1198.4 L1590.4,1200.4 L1591.8,1202.5 L1593.2,1204.5 L1594.7,1206.6 L1596.1,1208.6 L1597.6,1210.6 L1599.1,1212.6 L1600.6,1214.6 L1602.2,1216.6 L1603.7,1218.6 L1605.3,1220.5 L1606.9,1222.5 L1608.5,1224.4 L1610.1,1226.3 L1611.8,1228.2 L1613.4,1230.1 L1615.1,1232.0 L1616.8,1233.8 L1618.5,1235.7 L1620.2,1237.5 L1622.0,1239.3 L1623.8,1241.1 L1625.6,1242.9 L1627.4,1244.6 L1629.2,1246.3 L1631.0,1248.1 L1632.9,1249.7 L1634.8,1251.4 L1636.7,1253.0 L1638.6,1254.7 L1640.5,1256.3 L1642.5,1257.8 L1644.4,1259.4 L1646.4,1260.9 L1648.4,1262.4 L1650.4,1263.8 L1652.5,1265.3 L1654.5,1266.7 L1656.6,1268.0 L1658.7,1269.4 L1660.8,1270.7 L1663.0,1272.0 L1665.1,1273.2 L1667.3,1274.4 L1669.5,1275.6 L1671.7,1276.8 L1673.9,1277.9 L1676.1,1279.0 L1678.4,1280.0 L1680.6,1281.0 L1682.9,1282.0 L1685.2,1282.9 L1687.6,1283.8 L1689.9,1284.7 L1692.3,1285.5 L1694.6,1286.3 L1697.0,1287.1 L1699.4,1287.8 L1701.8,1288.5 L1704.2,1289.2 L1706.7,1289.9 L1709.1,1290.5 L1711.5,1291.1 L1714.0,1291.7 L1716.4,1292.2 L1718.9,1292.7 L1721.4,1293.2 L1723.8,1293.7 L1726.3,1294.2 L1728.8,1294.6 L1731.3,1295.0 L1733.8,1295.4 L1736.2,1295.8 L1738.7,1296.2 L1741.2,1296.5 L1743.7,1296.8 L1746.2,1297.2 L1748.7,1297.5 L1751.1,1297.7 L1753.6,1298.0 L1756.1,1298.3 L1758.6,1298.5 L1761.1,1298.7 L1763.6,1299.0 L1766.0,1299.2 L1768.5,1299.3 L1771.0,1299.5 L1773.5,1299.7 L1776.0,1299.8 L1778.5,1300.0 L1781.0,1300.1 L1783.5,1300.2 L1785.9,1300.3 L1788.4,1300.4 L1790.9,1300.5 L1793.4,1300.6 L1795.9,1300.6 L1798.4,1300.7 L1800.9,1300.7 L1803.4,1300.8 L1805.9,1300.8 L1808.4,1300.8 L1810.9,1300.9 L1813.4,1300.9 L1815.9,1300.9 L1818.5,1300.9 L1821.0,1300.8 L1823.5,1300.8 L1826.0,1300.8" fill="none" stroke="#808000" stroke-width="7.0" stroke-linejoin="round" stroke-linecap="butt"/>
<g stroke="#000" stroke-width="7.1" fill="none">
<rect x="221.2" y="13.85" width="1777.30" height="1429.80"/>
<line x1="221.2" y1="157.35" x2="250.3" y2="157.35" stroke-width="6.8"/>
<line x1="221.2" y1="443.45" x2="250.3" y2="443.45" stroke-width="6.8"/>
<line x1="221.2" y1="730.0" x2="250.3" y2="730.0" stroke-width="6.8"/>
<line x1="221.2" y1="1016.4" x2="250.3" y2="1016.4" stroke-width="6.8"/>
<line x1="221.2" y1="1302.0" x2="250.3" y2="1302.0" stroke-width="5.6"/>
<line x1="419.25" y1="1443.65" x2="419.25" y2="1416.2" stroke-width="7"/>
<line x1="812.9" y1="1443.65" x2="812.9" y2="1416.2" stroke-width="7"/>
<line x1="1209.1" y1="1443.65" x2="1209.1" y2="1416.2" stroke-width="7"/>
<line x1="1602.6" y1="1443.65" x2="1602.6" y2="1416.2" stroke-width="7"/>
</g>
<text class="tick" transform="translate(190.7,174.3) scale(1.005,1.022)" text-anchor="end">0.8</text>
<text class="tick" transform="translate(190.7,461.2) scale(1.005,1.033)" text-anchor="end">0.6</text>
<text class="tick" transform="translate(190.7,747.2) scale(1.005,1.05)" text-anchor="end">0.4</text>
<text class="tick" transform="translate(190.7,1033.8) scale(1.005,1.08)" text-anchor="end">0.2</text>
<text class="tick" transform="translate(190.7,1320.2) scale(1.005,1.08)" text-anchor="end">0.0</text>
<text class="tick" transform="translate(417.9,1523.3) scale(0.98,1.085)" text-anchor="middle">3</text>
<text class="tick" transform="translate(812.9,1523.3) scale(0.98,1.07)" text-anchor="middle">4</text>
<text class="tick" transform="translate(1209.0,1523.3) scale(0.98,1.03)" text-anchor="middle">5</text>
<text class="tick" transform="translate(1602.6,1523.3) scale(0.98,1.085)" text-anchor="middle">6</text>
<text class="tick" transform="translate(1998.7,1523.3) scale(0.98,1.03)" text-anchor="middle">7</text>
<text class="lab" transform="translate(1109.9,1640.7) scale(0.99,1.017)" text-anchor="middle">LogM</text>
<text class="lab" transform="translate(83.7,729.3) rotate(-90) scale(0.995,1.01)" text-anchor="middle">dWf/dLogM</text>
<line x1="1539.3" y1="157.2" x2="1675.4" y2="157.2" stroke="#ff0000" stroke-width="7.4"/>
<text class="leg" transform="translate(1687.6,179.6) scale(1.0,1.015)" text-anchor="start">140<tspan dy="1.6">°</tspan><tspan dy="-1.6">C</tspan></text>
<line x1="1539.3" y1="236.0" x2="1675.4" y2="236.0" stroke="#0000ff" stroke-width="7.4"/>
<text class="leg" transform="translate(1687.6,260.3) scale(1.0,1.015)" text-anchor="start">120<tspan dy="1.6">°</tspan><tspan dy="-1.6">C</tspan></text>
<line x1="1539.3" y1="317.0" x2="1675.4" y2="317.0" stroke="#808000" stroke-width="7.4"/>
<text class="leg" transform="translate(1687.6,341.0) scale(1.0,1.015)" text-anchor="start">100<tspan dy="1.6">°</tspan><tspan dy="-1.6">C</tspan></text>
</svg>
</body></html>
